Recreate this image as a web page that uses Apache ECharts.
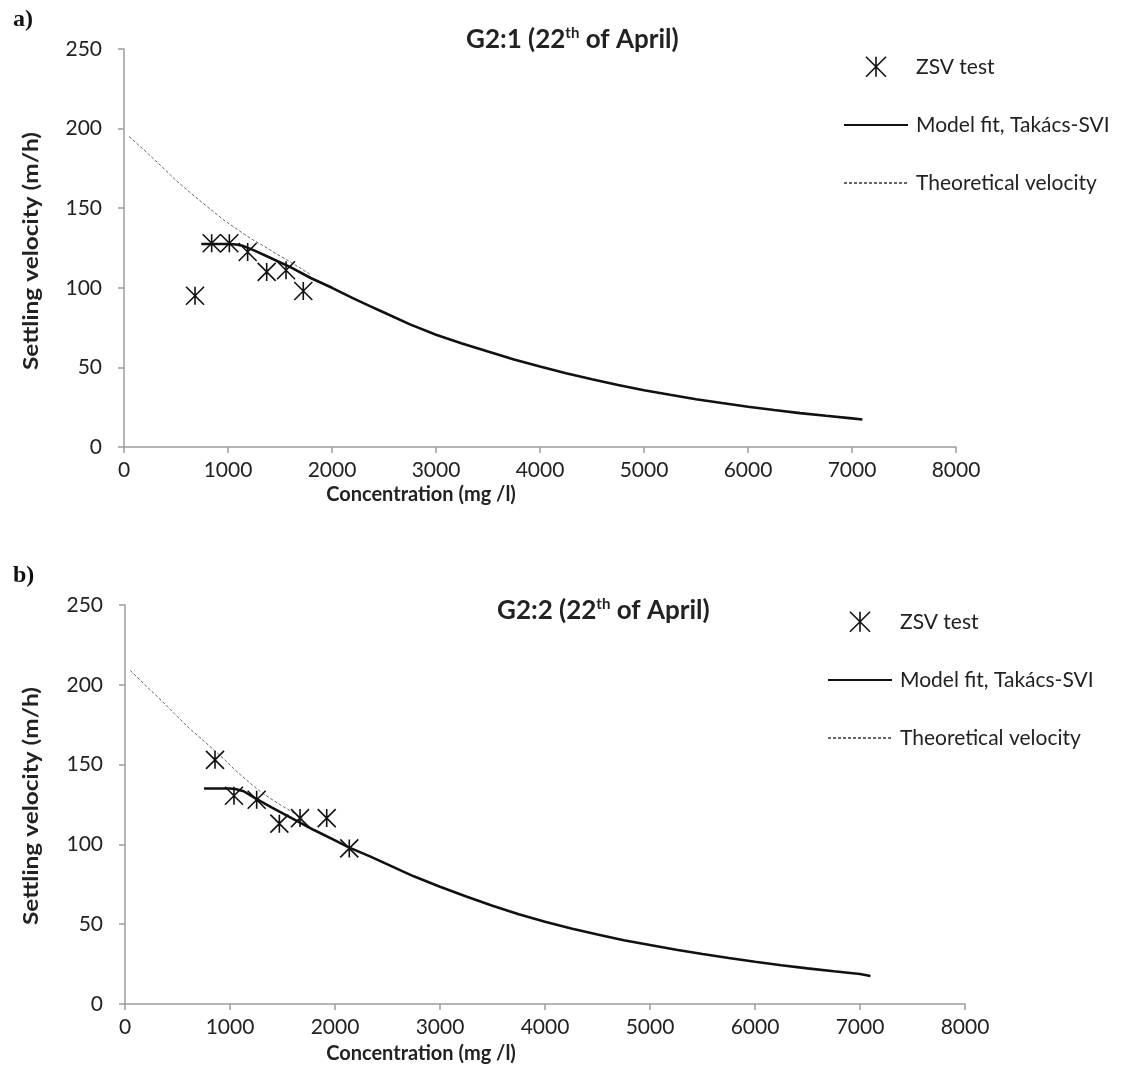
<!DOCTYPE html>
<html>
<head>
<meta charset="utf-8">
<script src="https://cdn.jsdelivr.net/npm/echarts@6/dist/echarts.min.js"></script>
<style>
html,body{margin:0;padding:0;background:#fff;}
#c{width:1131px;height:1090px;}
</style>
</head>
<body>
<div id="c"></div>
<script>
// ---- Data ----
const zsvA = [[683,95],[843,128],[1013,128],[1189,122.5],[1372,110],[1558,111],[1724,98]];
const modelA = [[743,127.5],[900,127.5],[1000,127.5],[1080,127.2],[1150,126.2],[1250,123.5],[1400,119],[1600,113],[1800,106],[2000,100],[2200,93.5],[2365,88.5],[2500,84.5],[2750,77],[3000,70.5],[3250,65],[3500,60],[3750,55],[4000,50.5],[4250,46.3],[4500,42.5],[4750,39],[5000,35.7],[5250,32.8],[5500,30],[5750,27.6],[6000,25.3],[6250,23.2],[6500,21.3],[6750,19.6],[7000,18],[7100,17.3]];
const theoryA = [[50,195],[186,187],[350,177],[500,167.5],[650,159],[800,151],[950,143],[1115,135.5],[1230,130.5],[1350,126],[1460,121.5],[1564,117.6],[1680,113],[1788,108.5]];

const zsvB = [[857,153],[1038,130.5],[1254,128],[1470,113],[1667,116.5],[1921,116.5],[2136,97.5]];
const modelB = [[752,135],[900,135],[1000,135],[1060,134.6],[1130,133.3],[1250,128.5],[1400,123],[1600,116],[1800,109],[2000,102.5],[2136,98],[2333,92.5],[2500,87.5],[2750,80],[3000,73.5],[3250,67.3],[3500,61.5],[3750,56.3],[4000,51.6],[4250,47.3],[4500,43.5],[4750,40],[5000,37],[5250,34],[5500,31.3],[5750,28.8],[6000,26.5],[6250,24.3],[6500,22.3],[6750,20.5],[7000,18.8],[7100,17.6]];
const theoryB = [[50,209],[190,200],[333,191],[470,182],[600,173.5],[730,166],[850,159],[950,153],[1050,146.5],[1180,139],[1300,132.5],[1450,126],[1600,120],[1700,116]];

const legendNames = ['ZSV test','Model fit, Takács-SVI','Theoretical velocity'];
const panelTitles = ['G2:1 (22', 'G2:2 (22'];
const xTitle = 'Concentration (mg /l)';
const yTitle = 'Settling velocity (m/h)';

// ---- Styling ----
const FONT = 'Lato, "Open Sans", sans-serif';
const AX = '#9c9c9c';
const STAR = 'path://M0,0L20,20M20,0L0,20M10,0L10,20';

function xAxisCfg(gi){
  return {gridIndex:gi,type:'value',min:0,max:8000,interval:1000,
    axisLine:{show:true,onZero:false,lineStyle:{color:AX,width:1.5}},
    axisTick:{show:true,length:6,lineStyle:{color:AX,width:1.5}},
    splitLine:{show:false},
    axisLabel:{fontSize:21,color:'#222',fontFamily:FONT,margin:13,formatter:v=>String(v)}};
}
function yAxisCfg(gi){
  return {gridIndex:gi,type:'value',min:0,max:250,interval:50,
    axisLine:{show:true,onZero:false,lineStyle:{color:AX,width:1.5}},
    axisTick:{show:true,length:6,lineStyle:{color:AX,width:1.5}},
    splitLine:{show:false},
    axisLabel:{fontSize:21,color:'#222',fontFamily:FONT,margin:22,formatter:v=>String(v)}};
}
function seriesFor(gi, zsv, model, theory){
  return [
    {name:legendNames[0],type:'scatter',xAxisIndex:gi,yAxisIndex:gi,data:zsv,
      symbol:STAR,symbolSize:18,z:5,
      itemStyle:{color:'rgba(0,0,0,0)',borderColor:'#111',borderWidth:1.6,opacity:1}},
    {name:legendNames[1],type:'line',xAxisIndex:gi,yAxisIndex:gi,data:model,
      symbol:'none',smooth:false,z:4,
      lineStyle:{color:'#111',width:2.6},itemStyle:{color:'#111'}},
    {name:legendNames[2],type:'line',xAxisIndex:gi,yAxisIndex:gi,data:theory,
      symbol:'none',smooth:false,z:3,
      lineStyle:{color:'#666',width:1,type:[3,2]},itemStyle:{color:'#666'}}
  ];
}
function legendCfg(left, top){
  return {orient:'vertical',left:left,top:top,padding:0,itemWidth:64,itemHeight:20,itemGap:37,
    textStyle:{fontSize:21,color:'#222',fontFamily:FONT,padding:[0,0,0,3]},
    data:[
      {name:legendNames[0],icon:STAR,itemStyle:{color:'rgba(0,0,0,0)',borderColor:'#111',borderWidth:1.6}},
      {name:legendNames[1],itemStyle:{opacity:0}},
      {name:legendNames[2],itemStyle:{opacity:0}}
    ]};
}
function titleText(x,y,t){
  return {type:'text',left:x,top:y,style:{
    text:'{m|'+t+'}{s|th}{m| of April)}',
    rich:{m:{fontSize:26,fontWeight:'bold',fontFamily:FONT,fill:'#222',verticalAlign:'bottom'},
          s:{fontSize:15,fontWeight:'bold',fontFamily:FONT,fill:'#222',verticalAlign:'top',padding:[0,0,12,0]}}}};
}
function yTitleText(cy){
  return {type:'text',x:32,y:cy,rotation:Math.PI/2,scaleX:1.22,
    style:{text:yTitle,font:'bold 20px '+FONT,fill:'#222',align:'center',verticalAlign:'middle'}};
}

const chart = echarts.init(document.getElementById('c'),null,{renderer:'canvas'});
chart.setOption({
  animation:false,
  backgroundColor:'#fff',
  grid:[
    {left:124,top:49,width:832,height:398},
    {left:125,top:605,width:840,height:399}
  ],
  xAxis:[xAxisCfg(0),xAxisCfg(1)],
  yAxis:[yAxisCfg(0),yAxisCfg(1)],
  legend:[legendCfg(843,56),legendCfg(827,611)],
  series:[...seriesFor(0,zsvA,modelA,theoryA),...seriesFor(1,zsvB,modelB,theoryB)],
  graphic:[
    {type:'text',left:13,top:8,style:{text:'a)',font:'bold 24px "Liberation Serif", serif',fill:'#111'}},
    {type:'text',left:13,top:564,style:{text:'b)',font:'bold 24px "Liberation Serif", serif',fill:'#111'}},
    titleText(466,26,panelTitles[0]),
    titleText(497,597,panelTitles[1]),
    {type:'text',x:421,y:495,style:{text:xTitle,font:'bold 20px '+FONT,fill:'#222',align:'center',verticalAlign:'middle'}},
    {type:'text',x:421,y:1054,style:{text:xTitle,font:'bold 20px '+FONT,fill:'#222',align:'center',verticalAlign:'middle'}},
    yTitleText(251),
    yTitleText(806)
  ]
});
</script>
</body>
</html>
